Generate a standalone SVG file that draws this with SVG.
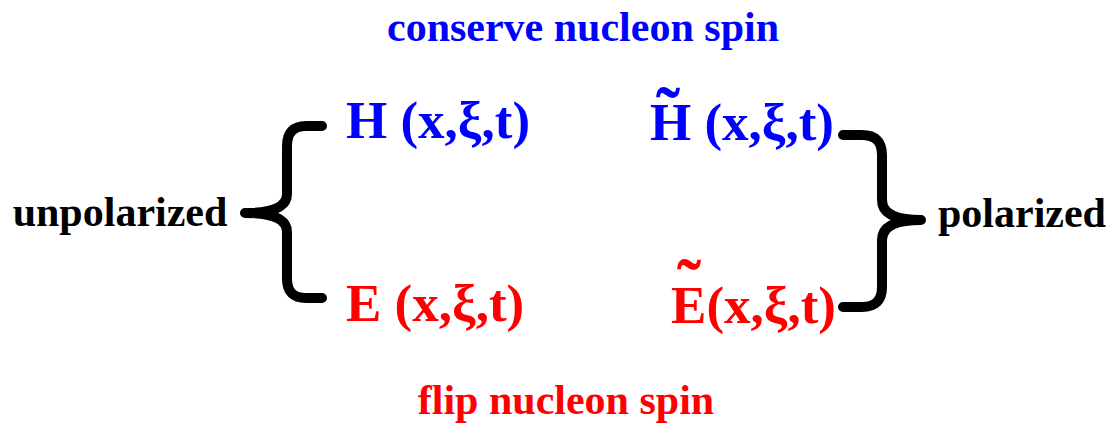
<svg xmlns="http://www.w3.org/2000/svg" width="1110" height="426" viewBox="0 0 1110 426">
<style>
text{font-family:"Liberation Serif","Times New Roman",serif;font-weight:bold}
.lbl{font-size:42px;fill:#000}
.big{font-size:53px}
.tl{font-size:72px}
.blue{fill:#0000FF}
.red{fill:#FF0000}
.brace{fill:none;stroke:#000;stroke-width:10;stroke-linecap:round;stroke-linejoin:round}
</style>
<rect width="1110" height="426" fill="#fff"/>
<g id="title-top"><text class="lbl blue" x="583" y="41" text-anchor="middle">conserve nucleon spin</text></g>
<g id="title-bottom"><text class="lbl red" x="566" y="414" text-anchor="middle">flip nucleon spin</text></g>
<g id="unpolarized"><text class="lbl" x="120" y="226" text-anchor="middle">unpolarized</text></g>
<g id="polarized"><text class="lbl" x="1022" y="227" text-anchor="middle">polarized</text></g>
<g id="H"><text class="big blue" x="346" y="138">H (x,ξ,t)</text></g>
<g id="E"><text class="big red" x="346" y="321">E (x,ξ,t)</text></g>
<g id="Htilde"><text class="big blue" x="650" y="140">H<tspan class="tl" x="656" y="137">˜</tspan><tspan x="691.2" y="140"> (x,ξ,t)</tspan></text></g>
<g id="Etilde"><text class="big red" x="671" y="323">E<tspan class="tl" x="677" y="309">˜</tspan><tspan x="706.4" y="323">(x,ξ,t)</tspan></text></g>
<g id="connectors">
<path class="brace" d="M322,126 L306,126 Q287,126 287,146 L287,194 Q287,213 245,213 Q287,213 287,232 L287,279 Q287,298 306,298 L322,298"/>
<path class="brace" d="M843,135 L862,135 Q882,135 882,155 L882,200 Q882,220 921,220 Q882,220 882,240 L882,287 Q882,307 862,307 L843,307"/>
</g>
</svg>
